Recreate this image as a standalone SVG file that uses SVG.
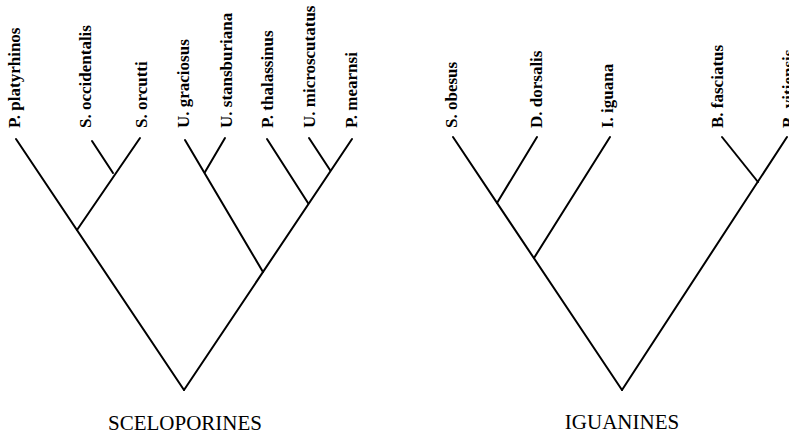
<svg xmlns="http://www.w3.org/2000/svg" width="789" height="437" viewBox="0 0 789 437">
<style>
.br{stroke:#000;stroke-width:2;fill:none;stroke-linecap:round}
.leaf{font-family:"Liberation Serif","Times New Roman",serif;font-weight:bold;font-size:17px;fill:#000}
.title{font-family:"Liberation Serif","Times New Roman",serif;font-size:21px;fill:#000;text-anchor:middle}
</style>
<rect width="789" height="437" fill="#fff"/>
<g id="connectors">
<line class="br" x1="16" y1="139" x2="184" y2="390"/>
<line class="br" x1="352" y1="139" x2="184" y2="390"/>
<line class="br" x1="92" y1="141" x2="113" y2="173"/>
<line class="br" x1="140" y1="138" x2="77" y2="230"/>
<line class="br" x1="185" y1="140" x2="263" y2="272"/>
<line class="br" x1="225" y1="138" x2="205" y2="172"/>
<line class="br" x1="267" y1="139" x2="308" y2="203"/>
<line class="br" x1="309" y1="138" x2="330" y2="170"/>
<line class="br" x1="453" y1="137" x2="622" y2="390"/>
<line class="br" x1="787" y1="137" x2="622" y2="390"/>
<line class="br" x1="537" y1="137" x2="497" y2="203"/>
<line class="br" x1="610" y1="137" x2="534" y2="258"/>
<line class="br" x1="722" y1="137" x2="758" y2="182"/>
</g>
<g id="n-platyrhinos"><text class="leaf" transform="translate(20,128) rotate(-90)">P. platyrhinos</text></g>
<g id="n-occidentalis"><text class="leaf" transform="translate(91,128) rotate(-90)">S. occidentalis</text></g>
<g id="n-orcutti"><text class="leaf" transform="translate(147,128) rotate(-90)">S. orcutti</text></g>
<g id="n-graciosus"><text class="leaf" transform="translate(189,128) rotate(-90)">U. graciosus</text></g>
<g id="n-stansburiana"><text class="leaf" transform="translate(232,128) rotate(-90)">U. stansburiana</text></g>
<g id="n-thalassinus"><text class="leaf" transform="translate(273,128) rotate(-90)">P. thalassinus</text></g>
<g id="n-microscutatus"><text class="leaf" transform="translate(315,128) rotate(-90)">U. microscutatus</text></g>
<g id="n-mearnsi"><text class="leaf" transform="translate(357,128) rotate(-90)">P. mearnsi</text></g>
<g id="n-obesus"><text class="leaf" transform="translate(457,128) rotate(-90)">S. obesus</text></g>
<g id="n-dorsalis"><text class="leaf" transform="translate(542,128) rotate(-90)">D. dorsalis</text></g>
<g id="n-iguana"><text class="leaf" transform="translate(613,128) rotate(-90)">I. iguana</text></g>
<g id="n-fasciatus"><text class="leaf" transform="translate(723,128) rotate(-90)">B. fasciatus</text></g>
<g id="n-vitiensis"><text class="leaf" transform="translate(794,128) rotate(-90)">B. vitiensis</text></g>
<g id="t-sceloporines"><text class="title" x="185" y="430">SCELOPORINES</text></g>
<g id="t-iguanines"><text class="title" x="622" y="429">IGUANINES</text></g>
</svg>
